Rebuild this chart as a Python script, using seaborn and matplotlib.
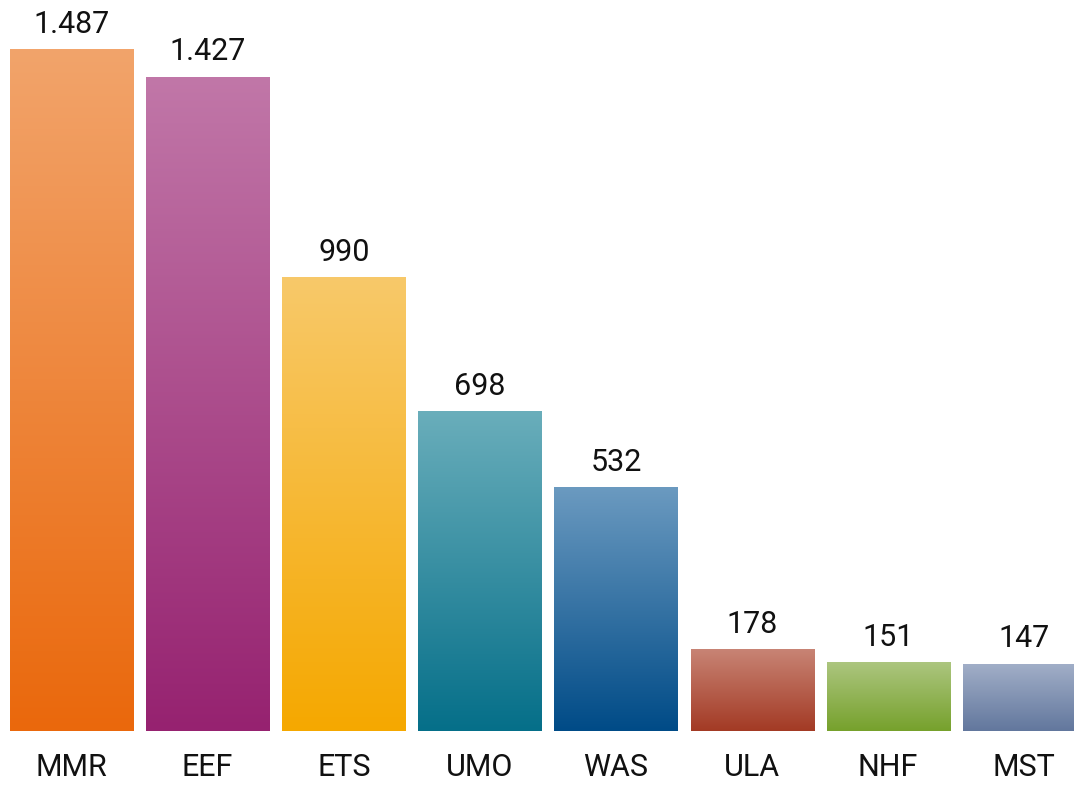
import numpy as np
import pandas as pd
import seaborn as sns
import matplotlib.pyplot as plt
from matplotlib.colors import LinearSegmentedColormap

categories = ['MMR', 'EEF', 'ETS', 'UMO', 'WAS', 'ULA', 'NHF', 'MST']
values = [1487, 1427, 990, 698, 532, 178, 151, 147]
top_colors = ['#F2A46B', '#C177A8', '#F8C96A', '#6AAEBB', '#6B9AC0', '#C88475', '#ADC680', '#A2AFC8']
bottom_colors = ['#EA680C', '#962270', '#F5A800', '#056F89', '#004B87', '#A33A24', '#76A12C', '#62779D']

df = pd.DataFrame({'cat': categories, 'val': values})

sns.set_style('white')
plt.rcParams['font.family'] = ['Roboto', 'DejaVu Sans']

fig = plt.figure(figsize=(10.74, 7.86), dpi=100)
ax = fig.add_axes([3.5 / 1074, 55 / 786, 8 * 136.1 / 1074, 731 / 786])

sns.barplot(data=df, x='cat', y='val', hue='cat', palette=bottom_colors,
            legend=False, width=0.904, ax=ax, saturation=1)

# gradient fill for each bar, light at top, dark at bottom
grad = np.linspace(0, 1, 256).reshape(-1, 1)
for patch, c_top, c_bot, v in zip(ax.patches, top_colors, bottom_colors, values):
    x0 = patch.get_x()
    w = patch.get_width()
    h = patch.get_height()
    cmap = LinearSegmentedColormap.from_list('g', [c_bot, c_top])
    im = ax.imshow(grad, cmap=cmap, aspect='auto', origin='lower',
                   extent=[x0, x0 + w, 0, h], zorder=patch.get_zorder() + 0.1)
    im.set_clip_path(patch)
    label = f'{v:,}'.replace(',', '.')
    ax.text(x0 + w / 2, h + 22, label, ha='center', va='bottom', fontsize=22, color='#111111')

ax.set_xlim(-0.5, len(categories) - 0.5)
ax.set_ylim(0, 1594)
ax.set_xlabel('')
ax.set_ylabel('')
ax.set_yticks([])
ax.tick_params(axis='x', length=0, pad=16, labelsize=22, labelcolor='#111111')
sns.despine(ax=ax, left=True, bottom=True)

fig.savefig('out.png', dpi=100)
